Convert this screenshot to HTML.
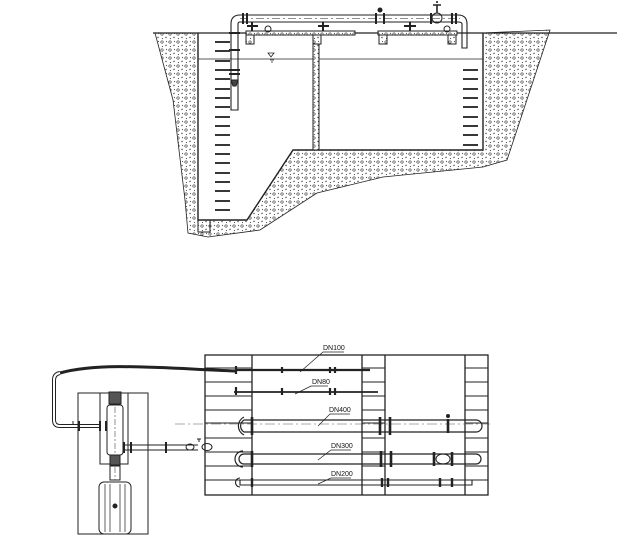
<!DOCTYPE html>
<html><head><meta charset="utf-8"><style>html,body{margin:0;padding:0;background:#fff}svg{display:block}</style></head>
<body>
<svg width="632" height="554" viewBox="0 0 632 554" xmlns="http://www.w3.org/2000/svg" font-family="Liberation Sans, sans-serif">
<defs>
<pattern id="soil" width="8" height="8" patternUnits="userSpaceOnUse">
<rect width="8" height="8" fill="#fff"/>
<circle cx="2" cy="2" r="1.2" fill="none" stroke="#444" stroke-width="0.7"/>
<circle cx="6" cy="5.5" r="0.7" fill="#444"/>
<circle cx="6.5" cy="1.5" r="0.6" fill="#555"/>
<circle cx="2.5" cy="6.5" r="0.6" fill="#555"/>
</pattern>
</defs>
<g stroke="#222" fill="none" stroke-width="1">
<path d="M155,33 L173,100 L185,200 L188,233 L208,237 L260,230 L317,193 L383,177 L483,167 L507,160 L550,30 L483,33 L483,150 L293,150 L247,220 L198,220 L198,33 Z" fill="url(#soil)" stroke-width="0.8"/>
<line x1="153" y1="33" x2="617" y2="33" stroke-width="1.2"/>
<path d="M198,33 V220 H247 L293,150 H483 V33" stroke-width="1.4"/>
<rect x="198" y="220" width="12" height="12"/>
<line x1="198" y1="59" x2="483" y2="59" stroke-width="0.7"/>
<path d="M268,53 l6,0 l-3,4 z M270,60 h4 M271,62 h2" stroke-width="0.8"/>
<g stroke-width="1.8">
<line x1="215" y1="42" x2="230" y2="42"/><line x1="215" y1="51" x2="230" y2="51"/><line x1="215" y1="61" x2="230" y2="61"/><line x1="215" y1="70" x2="230" y2="70"/><line x1="215" y1="79" x2="230" y2="79"/><line x1="215" y1="89" x2="230" y2="89"/><line x1="215" y1="98" x2="230" y2="98"/><line x1="215" y1="107" x2="230" y2="107"/><line x1="215" y1="117" x2="230" y2="117"/><line x1="215" y1="126" x2="230" y2="126"/><line x1="215" y1="135" x2="230" y2="135"/><line x1="215" y1="145" x2="230" y2="145"/><line x1="215" y1="154" x2="230" y2="154"/><line x1="215" y1="163" x2="230" y2="163"/><line x1="215" y1="173" x2="230" y2="173"/><line x1="215" y1="182" x2="230" y2="182"/><line x1="215" y1="191" x2="230" y2="191"/><line x1="215" y1="201" x2="230" y2="201"/><line x1="215" y1="210" x2="230" y2="210"/>
<line x1="463" y1="70" x2="478" y2="70"/><line x1="463" y1="79" x2="478" y2="79"/><line x1="463" y1="89" x2="478" y2="89"/><line x1="463" y1="98" x2="478" y2="98"/><line x1="463" y1="107" x2="478" y2="107"/><line x1="463" y1="117" x2="478" y2="117"/><line x1="463" y1="126" x2="478" y2="126"/><line x1="463" y1="135" x2="478" y2="135"/><line x1="463" y1="145" x2="478" y2="145"/>
</g>
<rect x="313" y="39" width="6" height="111" fill="url(#soil)"/>
<rect x="246" y="31" width="109" height="4" fill="url(#soil)"/>
<rect x="378" y="31" width="79" height="4" fill="url(#soil)"/>
<rect x="246" y="35" width="8" height="9" fill="url(#soil)"/>
<rect x="313" y="35" width="8" height="9" fill="url(#soil)"/>
<rect x="379" y="35" width="8" height="9" fill="url(#soil)"/>
<rect x="448" y="35" width="8" height="9" fill="url(#soil)"/>
<path d="M231,110 V24 Q231,15 240,15 H458 Q467,15 467,24 V48 H462 V24 Q462,22 458,22 H240 Q238,22 238,24 V110 Z" stroke-width="1.1"/>
<line x1="240" y1="18.5" x2="460" y2="18.5" stroke-dasharray="8,3,2,3" stroke-width="0.6"/>
<g stroke-width="2">
<line x1="243" y1="13" x2="243" y2="24"/><line x1="247" y1="13" x2="247" y2="24"/>
<line x1="376" y1="13" x2="376" y2="24"/><line x1="384" y1="13" x2="384" y2="24"/>
<line x1="431" y1="13" x2="431" y2="24"/><line x1="452" y1="13" x2="452" y2="24"/><line x1="456" y1="13" x2="456" y2="24"/>
<line x1="229" y1="33" x2="240" y2="33"/><line x1="229" y1="50" x2="240" y2="50"/><line x1="229" y1="70" x2="240" y2="70"/><line x1="229" y1="74" x2="240" y2="74"/>
<line x1="252" y1="22" x2="252" y2="31"/><line x1="247" y1="26" x2="258" y2="26"/>
<line x1="323" y1="22" x2="323" y2="31"/><line x1="318" y1="26" x2="329" y2="26"/>
<line x1="410" y1="22" x2="410" y2="31"/><line x1="404" y1="26" x2="416" y2="26"/>
</g>
<circle cx="380" cy="10" r="2" fill="#222"/>
<circle cx="437" cy="18" r="5"/>
<path d="M437,13 V5 M433,5 h8 M437,3 v-2" stroke-width="1.6"/>
<circle cx="268" cy="29" r="3"/><circle cx="447" cy="29" r="3"/>
<path d="M231,80 h7 l-2,6 h-3 z" fill="#444"/>
<rect x="205" y="355" width="283" height="140" stroke-width="1.3"/>
<line x1="252" y1="355" x2="252" y2="495" stroke-width="1.3"/><line x1="362" y1="355" x2="362" y2="495" stroke-width="1.3"/><line x1="385" y1="355" x2="385" y2="495" stroke-width="1.3"/><line x1="465" y1="355" x2="465" y2="495" stroke-width="1.3"/>
<g stroke-width="1">
<path d="M205,368H252M205,382H252M205,396H252M205,410H252M205,423H252M205,438H252M205,452H252M205,466H252M205,480H252"/>
<path d="M362,368H385M362,382H385M362,396H385M362,410H385M362,423H385M362,438H385M362,452H385M362,466H385M362,480H385"/>
<path d="M465,368H488M465,382H488M465,396H488M465,410H488M465,423H488M465,438H488M465,452H488M465,466H488M465,480H488"/>
</g>
<line x1="175" y1="424" x2="490" y2="424" stroke-dasharray="10,3,2,3" stroke-width="0.6" stroke="#555"/>
<path d="M60,373 C100,362 160,368 235,371" stroke-width="3"/>
<path d="M60,373 Q54,374 54,380 V420 Q54,426 60,426 H100" stroke-width="4"/>
<path d="M60,373 Q54,374 54,380 V420 Q54,426 60,426 H100" stroke-width="2" stroke="#fff"/>
<line x1="235" y1="370" x2="370" y2="370" stroke-width="2.2"/>
<line x1="234" y1="392" x2="378" y2="392" stroke-width="1.8"/>
<g stroke-width="2.2"><path d="M236,366v8M282,367v6M330,367v6M335,367v6M236,387v8M282,388v7M330,388v7M335,388v7"/></g>
<path d="M244,420 H476 A6,6 0 0 1 476,432 H244 A7,7 0 0 1 244,420 Z M244,417 A10,10 0 0 0 244,435" stroke-width="1.2"/>
<g stroke-width="2.6"><path d="M252,417v18M380,417v18M390,417v18M448,419v14"/></g>
<circle cx="448" cy="416" r="1.5" fill="#222"/>
<path d="M244,454 H476 A5,5 0 0 1 476,464 H244 A5,5 0 0 1 244,454 Z M243,451 A8,8 0 0 0 243,467" stroke-width="1.2"/>
<g stroke-width="2.6"><path d="M252,451v16M381,451v16M391,451v16M434,452v14M452,452v14"/></g>
<ellipse cx="443" cy="459" rx="7" ry="5"/>
<path d="M240,480 H472 V485 H240 Z M240,478 A4,4 0 0 0 240,487" stroke-width="1.1"/>
<g stroke-width="2.4"><path d="M252,478v9M382,478v9M388,478v9M440,478v9M452,478v9"/></g>
<g stroke-width="0.7"><path d="M300,372 L323,352 H344"/><path d="M295,394 L311,386 H328"/><path d="M318,426 L330,414 H350"/><path d="M318,460 L331,450 H351"/><path d="M318,484 L331,478 H351"/></g>
<rect x="78" y="393" width="70" height="141"/>
<rect x="100" y="393" width="28" height="71"/>
<rect x="107" y="405" width="16" height="50" rx="3"/>
<line x1="115" y1="395" x2="115" y2="480" stroke-dasharray="6,2,2,2" stroke-width="0.5"/>
<path d="M109,392h12v12h-12z M110,455h10v10h-10z" fill="#555"/>
<rect x="110" y="466" width="10" height="14"/>
<rect x="99" y="482" width="32" height="52" rx="5"/>
<path d="M105,484V532M110,484V532M120,484V532M125,484V532" stroke-width="0.7"/>
<circle cx="115" cy="506" r="2" fill="#222"/>
<path d="M123,445H198 M123,450H198" stroke-width="1.1"/>
<g stroke-width="2"><path d="M124,442v11M131,442v11M166,442v11M100,421v10M106,421v10M79,421v10"/></g>
<ellipse cx="190" cy="447" rx="4" ry="3"/><ellipse cx="207" cy="447" rx="5" ry="3.5"/>
<path d="M199,442v-3M197,439h4"/>
<path d="M73,425v-4"/>
</g>
<g font-size="7" fill="#111">
<text x="323" y="350">DN100</text>
<text x="312" y="384">DN80</text>
<text x="329" y="412">DN400</text>
<text x="331" y="448">DN300</text>
<text x="331" y="476">DN200</text>
</g>
</svg>
</body></html>
